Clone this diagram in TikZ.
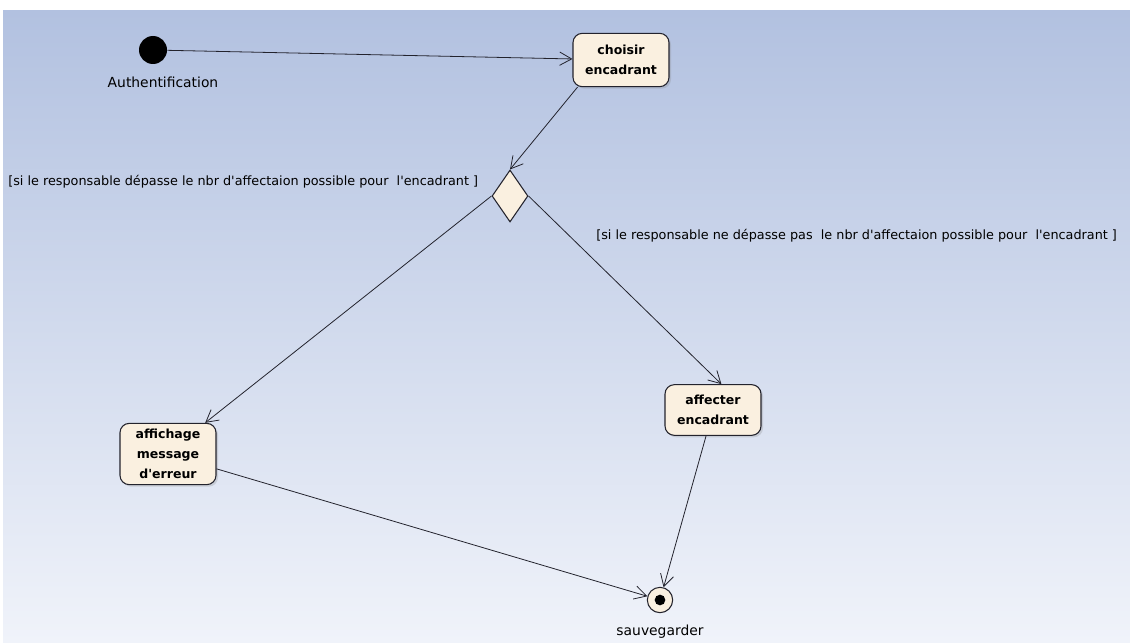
\documentclass[tikz,border=0pt]{standalone}
\usepackage{fontspec}
\setmainfont{DejaVu Sans}
\usetikzlibrary{calc, shapes, arrows.meta, shadows}

\definecolor{cream}{RGB}{250,240,224}
\definecolor{bgtop}{RGB}{178,193,224}
\definecolor{bgbot}{RGB}{240,243,250}
\definecolor{ink}{RGB}{35,35,45}

\begin{document}
\begin{tikzpicture}[x=0.75pt, y=-0.75pt]

    \tikzstyle{action}=[rectangle, rounded corners=7pt, draw=ink, thick, fill=cream, drop shadow={shadow xshift=1.5pt, shadow yshift=-1.5pt, opacity=0.25}, minimum width=72pt, align=center, font=\bfseries\fontsize{9.4}{15}\selectfont];
    \tikzstyle{guard}=[font=\fontsize{9.6}{12}\selectfont, anchor=west, inner sep=0pt];
    \tikzstyle{flow}=[-{Straight Barb[length=9pt, width=10pt]}, ink, semithick];

    \useasboundingbox (0,0) rectangle (1130,642);
    \fill[white] (0,0) rectangle (1130,642);
    \shade[top color=bgtop, bottom color=bgbot] (3,11) rectangle (1130,642);

    \node[circle, fill=black, minimum size=21pt, inner sep=0pt] (start) at (153,50) {};
    \node[font=\fontsize{10.4}{12}\selectfont] (startlbl) at ($(start)+(10,32)$) {Authentification};

    \node[action, minimum height=40pt] (choisir) at (621,60) {choisir\\encadrant};
    \node[diamond, draw=ink, thick, fill=cream, minimum width=27pt, minimum height=39pt, inner sep=0pt] (dec) at (510,196) {};

    \node[action, minimum height=46pt] (affichage) at (168,454) {affichage\\message\\d\textquotesingle erreur};
    \node[action, minimum height=38pt] (affecter) at ($(affichage)+(545,-44)$) {affecter\\encadrant};

    \node[circle, draw=ink, thick, fill=cream, minimum size=19pt, inner sep=0pt] (end) at (660,600) {};
    \node[circle, fill=black, minimum size=8pt, inner sep=0pt] (enddot) at (end) {};
    \node[font=\fontsize{10.4}{12}\selectfont] (endlbl) at ($(end)+(0,32)$) {sauvegarder};

    \node[guard] (nok) at (8,182) {[si le responsable dépasse le nbr d\textquotesingle affectaion possible pour\ \ l\textquotesingle encadrant ]};
    \node[guard] (ok) at (596,236) {[si le responsable ne dépasse pas\ \ le nbr d\textquotesingle affectaion possible pour\ \ l\textquotesingle encadrant ]};

    \draw (start) edge[flow] (choisir);
    \draw (choisir.-148) edge[flow] (dec.north);
    \draw (dec.west) edge[flow] (affichage.40);
    \draw (dec.east) edge[flow] (affecter.72);
    \draw (affichage.-17) edge[flow] (end);
    \draw (affecter.-105) edge[flow] (end);

\end{tikzpicture}
\end{document}
